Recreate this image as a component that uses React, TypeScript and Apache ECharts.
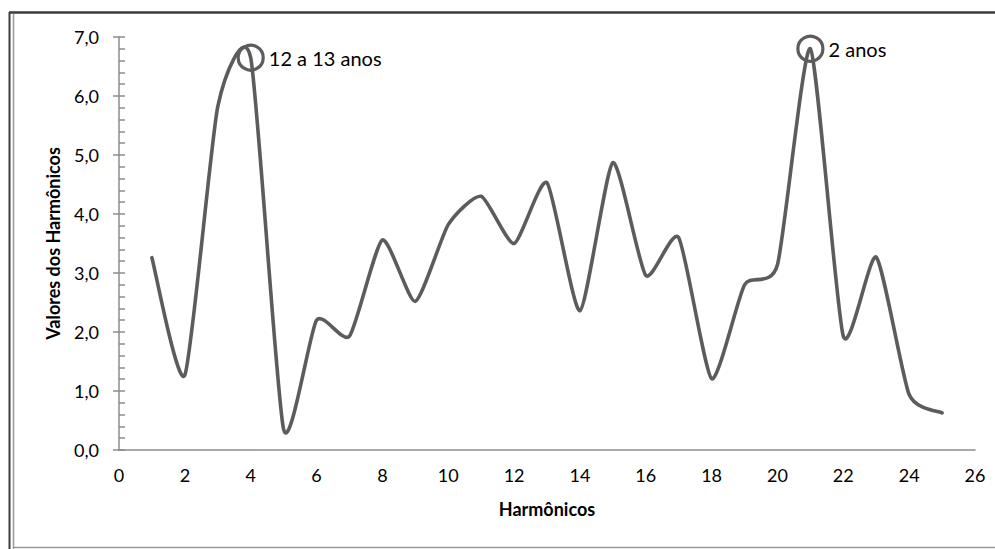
import React, { useEffect, useRef } from "react";
import * as echarts from "echarts";

const HARMONICS = [1, 2, 3, 4, 5, 6, 7, 8, 9, 10, 11, 12, 13, 14, 15, 16, 17, 18, 19, 20, 21, 22, 23, 24, 25];
const VALUES = [3.26, 1.27, 5.82, 6.65, 0.35, 2.2, 1.93, 3.56, 2.52, 3.82, 4.3, 3.5, 4.53, 2.36, 4.87, 2.96, 3.6, 1.21, 2.8, 3.14, 6.8, 1.93, 3.27, 0.94, 0.63];
const MARK_HARMONICS = [4, 21];
const MARK_LABELS = ["12 a 13 anos", "2 anos"];
const X_TITLE = "Harmônicos";
const Y_TITLE = "Valores dos Harmônicos";

const FONT = "Lato";
const LINE = "#5c5c5c";
const TENSION = 0.1;

export default function App() {
  const ref = useRef<HTMLDivElement>(null);
  useEffect(() => {
    document.body.style.margin = "0";
    const chart = echarts.init(ref.current!, null, { renderer: "svg" });
    const markData = MARK_HARMONICS.map((h, i) => ({
      value: [h, VALUES[HARMONICS.indexOf(h)]],
      label: { formatter: MARK_LABELS[i] },
    }));
    chart.setOption({
      animation: false,
      backgroundColor: "#ffffff",
      textStyle: { fontFamily: FONT },
      grid: { left: 119, right: 20, top: 37, bottom: 99, containLabel: false },
      xAxis: {
        type: "value",
        min: 0,
        max: 26,
        interval: 2,
        name: X_TITLE,
        nameLocation: "middle",
        nameGap: 50,
        nameTextStyle: { fontFamily: FONT, fontSize: 18, fontWeight: "bold", color: "#000" },
        axisLine: { show: true, onZero: false, lineStyle: { color: "#8c8c8c", width: 1.5 } },
        axisTick: { show: false },
        axisLabel: { fontFamily: FONT, fontSize: 18, color: "#000", margin: 16 },
        splitLine: { show: false },
      },
      yAxis: [
        {
          type: "value",
          min: 0,
          max: 7,
          interval: 1,
          name: Y_TITLE,
          nameLocation: "middle",
          nameGap: 57,
          nameTextStyle: { fontFamily: FONT, fontSize: 18, fontWeight: "bold", color: "#000" },
          axisLine: { show: true, lineStyle: { color: "#8c8c8c", width: 1.5 } },
          axisTick: { show: true, inside: false, length: 6, lineStyle: { color: "#8c8c8c", width: 1.5 } },
          minorTick: { show: true, splitNumber: 5, length: -6, lineStyle: { color: "#8c8c8c", width: 1.5 } },
          axisLabel: {
            fontFamily: FONT,
            fontSize: 18,
            color: "#000",
            margin: 20,
            formatter: (v: number) => v.toFixed(1).replace(".", ","),
          },
          splitLine: { show: false },
        },
        {
          type: "value",
          min: 0,
          max: 7,
          interval: 1,
          position: "left",
          axisLine: { show: false },
          axisTick: { show: true, inside: true, length: 6, lineStyle: { color: "#8c8c8c", width: 1.5 } },
          axisLabel: { show: false },
          splitLine: { show: false },
        },
      ],
      graphic: [
        { type: "line", shape: { x1: 9, y1: 12.5, x2: 995, y2: 12.5 }, style: { stroke: "#3c3c3c", lineWidth: 2.5 } },
        { type: "line", shape: { x1: 9.5, y1: 12, x2: 9.5, y2: 549 }, style: { stroke: "#3c3c3c", lineWidth: 2 } },
        { type: "line", shape: { x1: 13.5, y1: 14, x2: 13.5, y2: 549 }, style: { stroke: "#9a9a9a", lineWidth: 1.5 } },
        { type: "line", shape: { x1: 13, y1: 547.5, x2: 995, y2: 547.5 }, style: { stroke: "#9a9a9a", lineWidth: 1.5 } },
      ],
      series: [
        {
          type: "custom",
          coordinateSystem: "cartesian2d",
          data: HARMONICS.map((h, i) => [h, VALUES[i]]),
          encode: { x: 0, y: 1 },
          renderItem: (params: any, api: any) => {
            if (params.dataIndex !== 0) return null;
            const pts = HARMONICS.map((h, i) => api.coord([h, VALUES[i]]));
            let d = `M${pts[0][0]},${pts[0][1]}`;
            for (let i = 0; i < pts.length - 1; i++) {
              const p0 = pts[i - 1] || pts[i];
              const p1 = pts[i];
              const p2 = pts[i + 1];
              const p3 = pts[i + 2] || pts[i + 1];
              const c1x = p1[0] + (p2[0] - p0[0]) * TENSION;
              const c1y = p1[1] + (p2[1] - p0[1]) * TENSION;
              const c2x = p2[0] - (p3[0] - p1[0]) * TENSION;
              const c2y = p2[1] - (p3[1] - p1[1]) * TENSION;
              d += ` C${c1x},${c1y} ${c2x},${c2y} ${p2[0]},${p2[1]}`;
            }
            return {
              type: "path",
              shape: { pathData: d },
              style: { stroke: LINE, lineWidth: 3.6, fill: "none", lineJoin: "round", lineCap: "round" },
            };
          },
          z: 2,
        },
        {
          type: "scatter",
          data: markData,
          symbol: "circle",
          symbolSize: 25,
          itemStyle: { color: "rgba(0,0,0,0)", borderColor: LINE, borderWidth: 3.2, opacity: 1 },
          label: {
            show: true,
            position: "right",
            distance: 4,
            fontFamily: FONT,
            fontSize: 20,
            color: "#000",
          },
          z: 3,
        },
      ],
    });
    return () => chart.dispose();
  }, []);
  return <div ref={ref} style={{ width: 995, height: 549, position: "absolute", left: 0, top: 0 }} />;
}
